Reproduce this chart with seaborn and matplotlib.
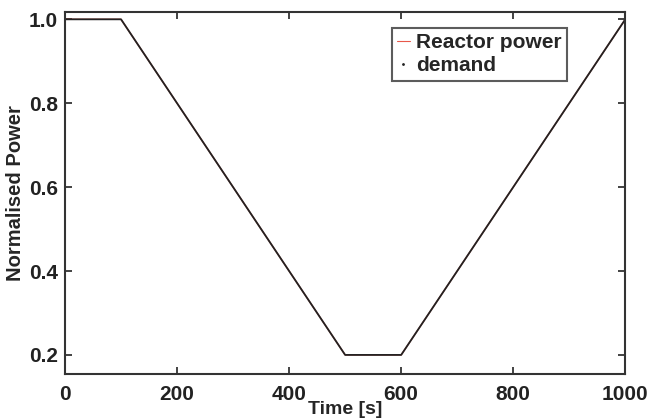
import matplotlib
matplotlib.use("Agg")
import matplotlib.pyplot as plt
from matplotlib.lines import Line2D
import seaborn as sns
import pandas as pd

time_s = [0, 100, 500, 600, 1000]
reactor_power = [1.0, 1.0, 0.2, 0.2, 1.0]
demand = [1.0, 1.0, 0.2, 0.2, 1.0]
x_ticks = [0, 200, 400, 600, 800, 1000]
y_ticks = [0.2, 0.4, 0.6, 0.8, 1.0]

sns.set_style("ticks")
plt.rcParams['font.family'] = ['Liberation Sans', 'DejaVu Sans']

df = pd.DataFrame({"t": time_s, "rp": reactor_power, "d": demand})

fig = plt.figure(figsize=(6.5, 4.2), dpi=100)
ax = fig.add_axes([0.1, 0.11, 0.862, 0.861])

sns.lineplot(data=df, x="t", y="rp", ax=ax, color="#e8584a", linewidth=1.0)
sns.lineplot(data=df, x="t", y="d", ax=ax, color="#222222", linewidth=1.3)

ax.set_xlim(0, 1000)
ax.set_ylim(0.155, 1.017)
ax.set_xticks(x_ticks)
ax.set_yticks(y_ticks)
ax.set_xticklabels([str(v) for v in x_ticks])
ax.set_yticklabels([f"{v:.1f}" for v in y_ticks])
ax.tick_params(direction="in", length=5, width=1.2, top=True, right=True,
               labelsize=15, colors="#222222", pad=5)
ax.tick_params(axis="x", pad=8)
for lab in ax.get_xticklabels() + ax.get_yticklabels():
    lab.set_fontweight("bold")
for sp in ax.spines.values():
    sp.set_visible(True)
    sp.set_linewidth(1.5)
    sp.set_color("#333333")

ax.set_xlabel("Time [s]", fontsize=14, fontweight="bold", labelpad=-2)
ax.set_ylabel("Normalised Power", fontsize=14.5, fontweight="bold", labelpad=3)

handles = [Line2D([], [], color="#e8584a", linewidth=0.8),
           Line2D([], [], color="#222222", linestyle="none", marker=".", markersize=2)]
leg = ax.legend(handles, ["Reactor power", "demand"], loc="upper left",
                bbox_to_anchor=(0.565, 0.985), frameon=True,
                fancybox=False, handlelength=0.6, handletextpad=0.3,
                borderpad=0.25, labelspacing=0.2, prop={"weight": "bold", "size": 15})
leg.get_frame().set_edgecolor("#333333")
leg.get_frame().set_linewidth(1.5)

fig.savefig("out.png", dpi=100)
